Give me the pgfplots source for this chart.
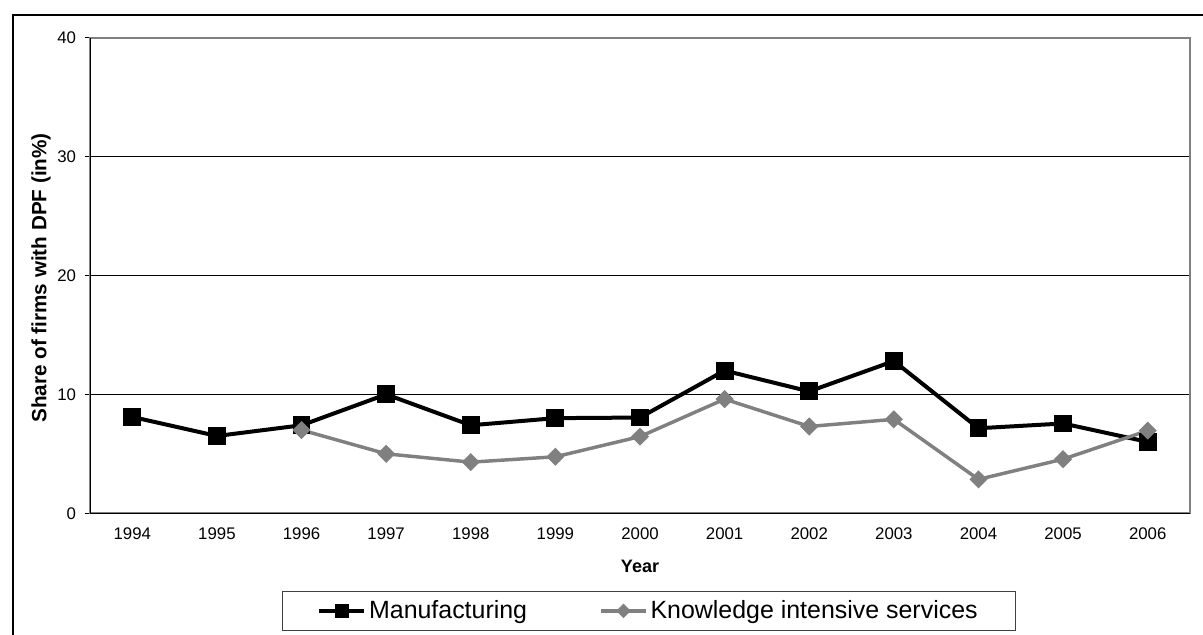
\documentclass[border=0pt]{standalone}
\usepackage{fontspec}
\setmainfont{Liberation Sans}
\usepackage{pgfplots}
\pgfplotsset{compat=1.18}

% 1 px of the reference = 0.75pt
\definecolor{kisgray}{RGB}{128,128,128}

\begin{document}
\begin{tikzpicture}
\useasboundingbox (0,0) rectangle (902.25pt,476.25pt);
% outer frame (left and top only visible)
\draw[line width=1.5pt] (9.75pt,-5pt) -- (9.75pt,465pt) -- (910pt,465pt);

\begin{axis}[
    at={(67.5pt,91.3pt)}, anchor=south west,
    scale only axis,
    width=825pt, height=356.7pt,
    xmin=-0.5, xmax=12.5,
    ymin=0, ymax=40,
    xtick={0,...,12},
    xticklabels={1994,1995,1996,1997,1998,1999,2000,2001,2002,2003,2004,2005,2006},
    major x tick style={draw=none},
    extra x ticks={-0.5,0.5,...,12.5},
    extra x tick labels={},
    extra x tick style={grid=none, major tick length=4pt, tick style={draw=black, line width=0.75pt}},
    xtick pos=bottom, ytick pos=left,
    ytick={0,10,20,30,40},
    ymajorgrids,
    major grid style={black, line width=0.75pt},
    tick align=outside,
    major tick length=4pt,
    y tick style={black, line width=0.75pt},
    axis line style={draw=kisgray, line width=1.5pt},
    /pgf/number format/assume math mode=true,
    tick label style={font=\fontsize{12.6}{14}\selectfont},
    yticklabel style={xshift=-3pt},
    xticklabel style={yshift=-3pt},
    xlabel={\textbf{Year}},
    xlabel style={font=\fontsize{13.5}{15}\selectfont, at={(axis description cs:0.5,0)}, anchor=center, yshift=-40pt},
    ylabel={\textbf{Share of firms with DPF (in\%)}},
    ylabel style={font=\fontsize{15.5}{17}\selectfont, at={(axis description cs:-0.0445,0.495)}, anchor=center},
    legend columns=2,
    legend style={
        at={(0.1745,0)}, anchor=north west, yshift=-58.3pt,
        draw=darkgray, line width=0.75pt,
        inner xsep=26pt, inner ysep=6pt,
        font=\fontsize{18.7}{22}\selectfont,
        nodes={inner xsep=2pt, inner ysep=1pt},
        /tikz/every even column/.append style={column sep=52pt},
    },
    legend cell align=left,
    legend image code/.code={
        \draw[mark repeat=2, mark phase=2, #1, every mark/.append style={scale=0.72}]
            plot coordinates {(0pt,0pt) (17pt,0pt) (34pt,0pt)};
    },
]

\addplot[black, line width=3pt, mark=square*, mark size=5.2pt, mark options={solid, fill=black}]
coordinates {
(0,8.1) (1,6.5) (2,7.4) (3,10.0) (4,7.4) (5,8.0) (6,8.05)
(7,12.0) (8,10.25) (9,12.8) (10,7.15) (11,7.55) (12,6.0)
};
\addlegendentry{Manufacturing}

\addplot[kisgray, line width=2.6pt, mark=square*, mark size=3.5pt, mark options={solid, fill=kisgray, rotate=45}]
coordinates {
(2,7.0) (3,5.0) (4,4.3) (5,4.75) (6,6.45) (7,9.6)
(8,7.3) (9,7.9) (10,2.85) (11,4.55) (12,6.95)
};
\addlegendentry{Knowledge intensive services}

% black value and category axes over the grey plot-area border
\draw[black, line width=1pt] (rel axis cs:0,1) -- (rel axis cs:0,0) -- (rel axis cs:1,0);
\end{axis}
\end{tikzpicture}
\end{document}
